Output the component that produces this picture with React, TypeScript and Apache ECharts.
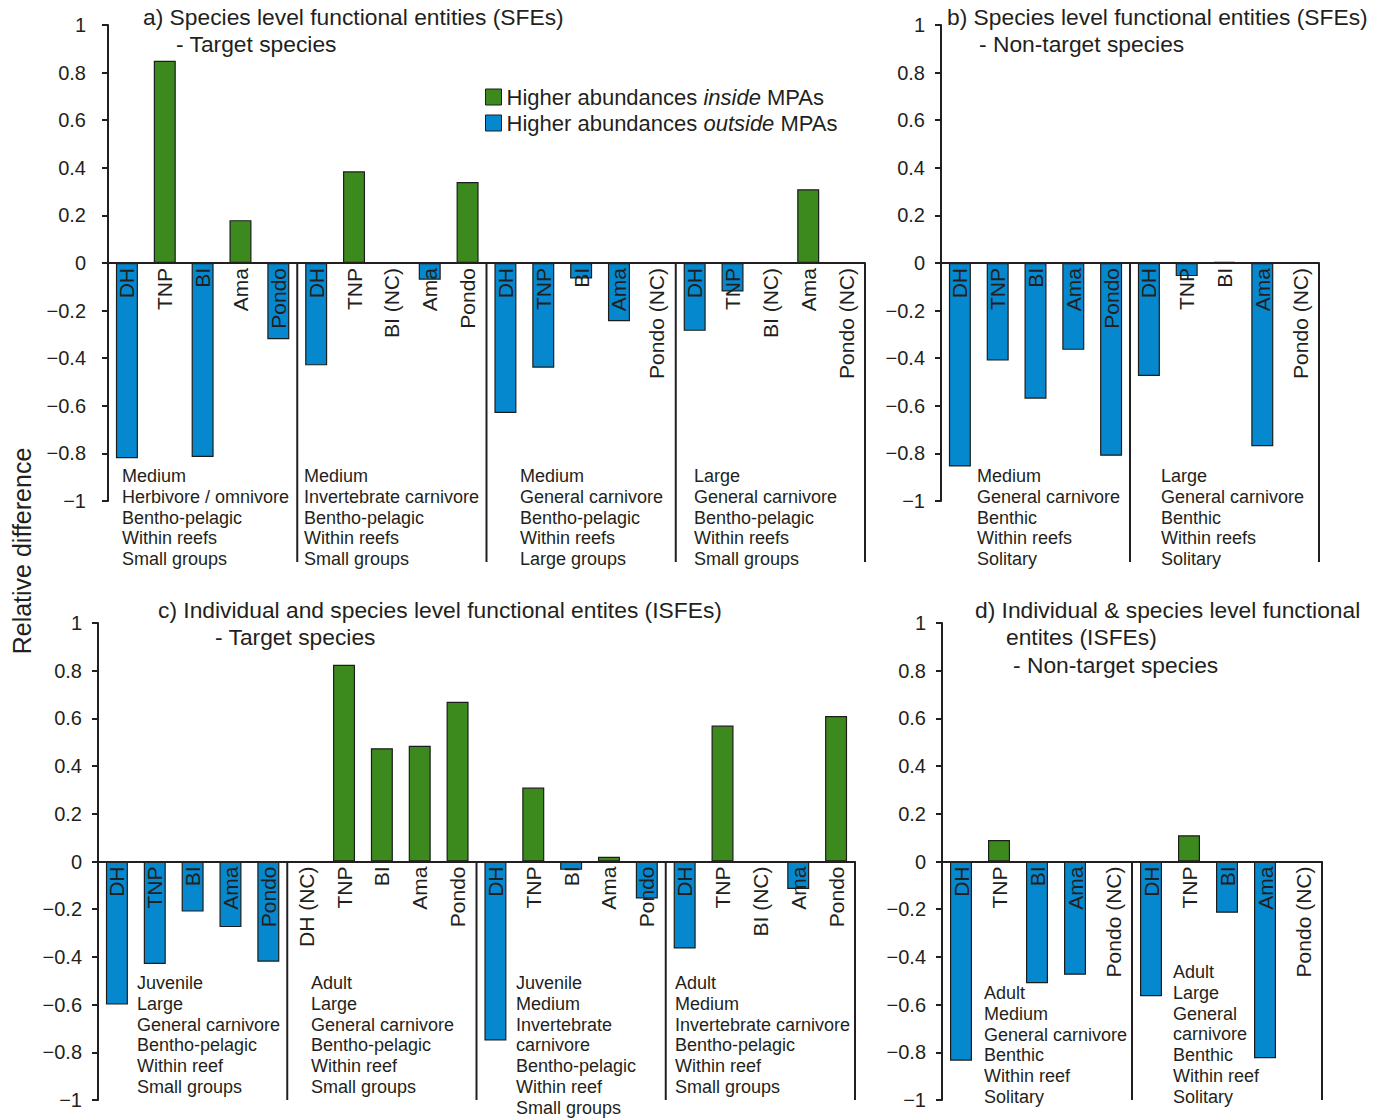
import React, { useEffect, useRef } from "react";
import * as echarts from "echarts";

// Site codes under each bar, grouped five per functional entity
const catsA = ["DH", "TNP", "BI", "Ama", "Pondo", "DH", "TNP", "BI (NC)", "Ama", "Pondo", "DH", "TNP", "BI", "Ama", "Pondo (NC)", "DH", "TNP", "BI (NC)", "Ama", "Pondo (NC)"];
const catsB = ["DH", "TNP", "BI", "Ama", "Pondo", "DH", "TNP", "BI", "Ama", "Pondo (NC)"];
const catsC = ["DH", "TNP", "BI", "Ama", "Pondo", "DH (NC)", "TNP", "BI", "Ama", "Pondo", "DH", "TNP", "BI", "Ama", "Pondo", "DH", "TNP", "BI (NC)", "Ama", "Pondo"];
const catsD = ["DH", "TNP", "BI", "Ama", "Pondo (NC)", "DH", "TNP", "BI", "Ama", "Pondo (NC)"];

// Relative difference (inside vs outside MPAs); null = no comparison
const valsA = [-0.82, 0.85, -0.815, 0.18, -0.32, -0.43, 0.385, null, -0.07, 0.34, -0.63, -0.44, -0.065, -0.245, null, -0.285, -0.12, null, 0.31, null];
const valsB = [-0.855, -0.41, -0.57, -0.365, -0.81, -0.475, -0.055, 0.005, -0.77, null];
const valsC = [-0.6, -0.43, -0.21, -0.275, -0.42, null, 0.825, 0.475, 0.485, 0.67, -0.75, 0.31, -0.035, 0.02, -0.155, -0.365, 0.57, null, -0.115, 0.61];
const valsD = [-0.835, 0.09, -0.51, -0.475, null, -0.565, 0.11, -0.215, -0.825, null];

// Trait descriptions of each functional entity
const traitsA = [
  ["Medium", "Herbivore / omnivore", "Bentho-pelagic", "Within reefs", "Small groups"],
  ["Medium", "Invertebrate carnivore", "Bentho-pelagic", "Within reefs", "Small groups"],
  ["Medium", "General carnivore", "Bentho-pelagic", "Within reefs", "Large groups"],
  ["Large", "General carnivore", "Bentho-pelagic", "Within reefs", "Small groups"],
];
const traitsB = [
  ["Medium", "General carnivore", "Benthic", "Within reefs", "Solitary"],
  ["Large", "General carnivore", "Benthic", "Within reefs", "Solitary"],
];
const traitsC = [
  ["Juvenile", "Large", "General carnivore", "Bentho-pelagic", "Within reef", "Small groups"],
  ["Adult", "Large", "General carnivore", "Bentho-pelagic", "Within reef", "Small groups"],
  ["Juvenile", "Medium", "Invertebrate", "carnivore", "Bentho-pelagic", "Within reef", "Small groups"],
  ["Adult", "Medium", "Invertebrate carnivore", "Bentho-pelagic", "Within reef", "Small groups"],
];
const traitsD = [
  ["Adult", "Medium", "General carnivore", "Benthic", "Within reef", "Solitary"],
  ["Adult", "Large", "General", "carnivore", "Benthic", "Within reef", "Solitary"],
];

const INSIDE = "Higher abundances inside MPAs";
const OUTSIDE = "Higher abundances outside MPAs";
const GREEN = "#3c8a1e";
const BLUE = "#0688cf";
const INK = "#231f20";
const FONT = '"Liberation Sans", Arial, Helvetica, sans-serif';

const panels = [
  { cats: catsA, vals: valsA, traits: traitsA, grid: { left: 108, top: 25, width: 757, height: 476 }, sepBottom: 562, labelMargin: 22,
    traitPos: [[122, 476], [304, 476], [520, 476], [694, 476]],
    titles: [["a) Species level functional entities (SFEs)", 143, 17], ["- Target species", 176, 44]] },
  { cats: catsB, vals: valsB, traits: traitsB, grid: { left: 941, top: 25, width: 378, height: 476 }, sepBottom: 562, labelMargin: 16,
    traitPos: [[977, 476], [1161, 476]],
    titles: [["b) Species level functional entities (SFEs)", 947, 17], ["- Non-target species", 979, 44]] },
  { cats: catsC, vals: valsC, traits: traitsC, grid: { left: 98, top: 623, width: 757, height: 477 }, sepBottom: 1100, labelMargin: 16,
    traitPos: [[137, 983], [311, 983], [516, 983], [675, 983]],
    titles: [["c) Individual and species level functional entites (ISFEs)", 158, 610], ["- Target species", 215, 637]] },
  { cats: catsD, vals: valsD, traits: traitsD, grid: { left: 942, top: 623, width: 380, height: 477 }, sepBottom: 1100, labelMargin: 16,
    traitPos: [[984, 993], [1173, 972]],
    titles: [["d) Individual & species level functional", 975, 610], ["entites (ISFEs)", 1006, 637], ["- Non-target species", 1013, 665]] },
];

const fmtTick = (v: number) => {
  if (v === 0) return "0";
  const s = String(Math.abs(Math.round(v * 10) / 10));
  return v < 0 ? "\u2212" + s : s;
};

export default function App() {
  const ref = useRef<HTMLDivElement>(null);

  useEffect(() => {
    if (!ref.current) return;
    const chart = echarts.init(ref.current, undefined, { renderer: "svg" });

    const grids: any[] = [];
    const xAxes: any[] = [];
    const yAxes: any[] = [];
    const series: any[] = [];
    const graphics: any[] = [];
    const LH = 20.8;

    panels.forEach((p, i) => {
      grids.push({ ...p.grid, containLabel: false, outerBoundsMode: "none" });
      // the category axis sits on the zero line: lifted by half the grid height
      xAxes.push({
        type: "category",
        gridIndex: i,
        data: p.cats,
        position: "bottom",
        offset: -p.grid.height / 2,
        z: 10,
        axisLine: { onZero: false, lineStyle: { color: INK, width: 2 } },
        axisTick: { show: false },
        axisLabel: { interval: 0, rotate: 90, margin: 5, fontSize: 21, fontFamily: FONT, color: INK },
        splitLine: { show: false },
      });
      yAxes.push({
        type: "value",
        gridIndex: i,
        min: -1,
        max: 1,
        interval: 0.2,
        axisLine: { show: true, lineStyle: { color: INK, width: 2 } },
        axisTick: { show: true, length: 6, lineStyle: { color: INK, width: 2 } },
        axisLabel: { margin: p.labelMargin, fontSize: 20, fontFamily: FONT, color: INK, formatter: fmtTick },
        splitLine: { show: false },
      });
      const common = {
        type: "bar",
        xAxisIndex: i,
        yAxisIndex: i,
        barWidth: 22,
        barGap: "-100%",
        z: 2,
      };
      series.push({
        ...common,
        name: INSIDE,
        itemStyle: { color: GREEN, borderColor: "#1d1d1b", borderWidth: 1.2 },
        data: p.vals.map((v) => (v !== null && v > 0 ? v : "-")),
      });
      series.push({
        ...common,
        name: OUTSIDE,
        itemStyle: { color: BLUE, borderColor: "#1d1d1b", borderWidth: 1.2 },
        data: p.vals.map((v) => (v !== null && v < 0 ? v : "-")),
      });

      // group separators, running from the zero line down past the trait text
      const nGroups = p.cats.length / 5;
      const zeroY = p.grid.top + p.grid.height / 2;
      for (let k = 1; k <= nGroups; k++) {
        const x = p.grid.left + (p.grid.width * k) / nGroups;
        graphics.push({
          type: "line",
          shape: { x1: x, y1: zeroY, x2: x, y2: p.sepBottom },
          style: { stroke: INK, lineWidth: 2 },
          z: 5,
        });
      }

      p.traits.forEach((lines, g) => {
        const [tx, ty] = p.traitPos[g];
        graphics.push({
          type: "text",
          x: tx,
          y: ty - LH / 2,
          z: 6,
          style: {
            text: lines.join("\n"),
            fontSize: 18,
            fontFamily: FONT,
            fill: INK,
            lineHeight: LH,
            textAlign: "left",
            textVerticalAlign: "top",
          },
        });
      });

      p.titles.forEach(([t, x, y]) => {
        graphics.push({
          type: "text",
          x,
          y,
          z: 6,
          style: { text: t, fontSize: 22.8, fontFamily: FONT, fill: INK, textAlign: "left", textVerticalAlign: "middle" },
        });
      });
    });

    graphics.push({
      type: "text",
      x: 22,
      y: 551,
      rotation: Math.PI / 2,
      z: 6,
      style: { text: "Relative difference", fontSize: 25, fontFamily: FONT, fill: INK, textAlign: "center", textVerticalAlign: "middle" },
    });

    chart.setOption({
      animation: false,
      backgroundColor: "#ffffff",
      legend: {
        orient: "vertical",
        left: 480,
        top: 81,
        itemWidth: 16,
        itemHeight: 16,
        itemGap: 4,
        icon: "rect",
        data: [INSIDE, OUTSIDE],
        itemStyle: { borderColor: "#1d1d1b", borderWidth: 1 },
        formatter: (name: string) =>
          name === INSIDE
            ? "{n|Higher abundances }{i|inside}{n| MPAs}"
            : "{n|Higher abundances }{i|outside}{n| MPAs}",
        textStyle: {
          fontSize: 22,
          fontFamily: FONT,
          color: INK,
          rich: {
            n: { fontSize: 22, fontFamily: FONT, color: INK },
            i: { fontSize: 22, fontFamily: FONT, color: INK, fontStyle: "italic" },
          },
        },
      },
      grid: grids,
      xAxis: xAxes,
      yAxis: yAxes,
      series,
      graphic: graphics,
    });

    return () => chart.dispose();
  }, []);

  return (
    <div
      ref={ref}
      style={{ position: "fixed", left: 0, top: 0, width: 1385, height: 1118, background: "#fff" }}
    />
  );
}
